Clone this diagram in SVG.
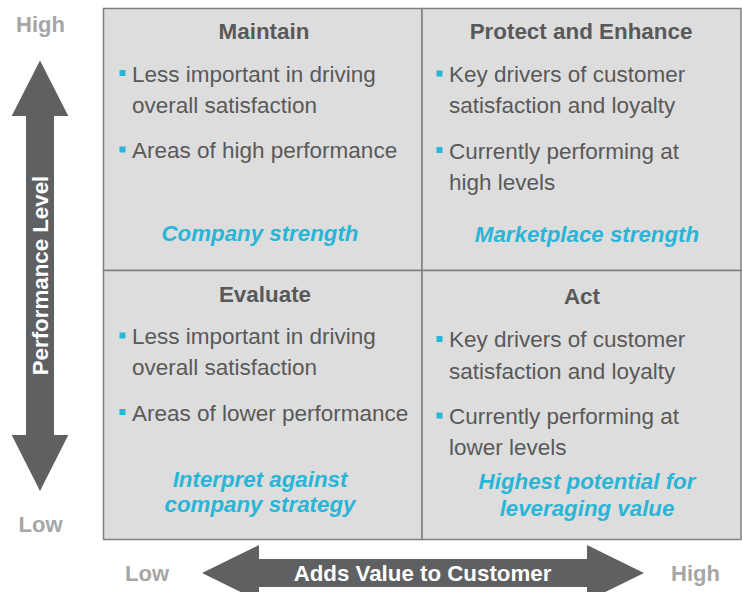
<svg xmlns="http://www.w3.org/2000/svg" width="742" height="592" viewBox="0 0 742 592">
<style>
text{font-family:"Liberation Sans",Arial,sans-serif}
.ttl{font-size:22.4px;font-weight:bold;fill:#595959;text-anchor:middle}
.bul{font-size:22.5px;fill:#595959}
.it{font-size:22.3px;font-weight:bold;font-style:italic;fill:#29b5d7;text-anchor:middle}
.ax{font-size:22px;font-weight:bold;fill:#a6a6a6;text-anchor:middle}
.arr{fill:#5f6062}
.arrt{font-size:22.3px;font-weight:bold;fill:#ffffff;text-anchor:middle}
.sq{fill:#29b5d7}
.cell{fill:#dddddd;stroke:#7f7f7f;stroke-width:1.5}
</style>
<rect width="742" height="592" fill="#ffffff"/>
<g id="grid">
<rect class="cell" x="103.5" y="8.5" width="318.5" height="262"/>
<rect class="cell" x="422" y="8.5" width="319" height="262"/>
<rect class="cell" x="103.5" y="270.5" width="318.5" height="269"/>
<rect class="cell" x="422" y="270.5" width="319" height="269"/>
</g>
<g id="maintain">
<text class="ttl" x="264" y="39">Maintain</text>
<rect class="sq" x="119.5" y="70" width="6" height="6"/>
<text class="bul" x="132" y="81.5">Less important in driving</text>
<text class="bul" x="132" y="112.5">overall satisfaction</text>
<rect class="sq" x="119.5" y="146.5" width="6" height="6"/>
<text class="bul" x="132" y="158">Areas of high performance</text>
<text class="it" x="260" y="241">Company strength</text>
</g>
<g id="protect">
<text class="ttl" x="581" y="39.3">Protect and Enhance</text>
<rect class="sq" x="436.5" y="70.5" width="6" height="6"/>
<text class="bul" x="449" y="82">Key drivers of customer</text>
<text class="bul" x="449" y="113">satisfaction and loyalty</text>
<rect class="sq" x="436.5" y="147" width="6" height="6"/>
<text class="bul" x="449" y="158.5">Currently performing at</text>
<text class="bul" x="449" y="190">high levels</text>
<text class="it" x="587" y="241.5">Marketplace strength</text>
</g>
<g id="evaluate">
<text class="ttl" x="265" y="301.5">Evaluate</text>
<rect class="sq" x="119.5" y="332.5" width="6" height="6"/>
<text class="bul" x="132" y="344">Less important in driving</text>
<text class="bul" x="132" y="375.3">overall satisfaction</text>
<rect class="sq" x="119.5" y="409" width="6" height="6"/>
<text class="bul" x="132" y="420.7">Areas of lower performance</text>
<text class="it" x="260" y="486.7">Interpret against</text>
<text class="it" x="260" y="512">company strategy</text>
</g>
<g id="act">
<text class="ttl" x="582" y="304.3">Act</text>
<rect class="sq" x="436.5" y="336" width="6" height="6"/>
<text class="bul" x="449" y="347.3">Key drivers of customer</text>
<text class="bul" x="449" y="379">satisfaction and loyalty</text>
<rect class="sq" x="436.5" y="412.5" width="6" height="6"/>
<text class="bul" x="449" y="424.3">Currently performing at</text>
<text class="bul" x="449" y="455">lower levels</text>
<text class="it" x="587" y="489">Highest potential for</text>
<text class="it" x="587" y="515.5">leveraging value</text>
</g>
<g id="axes">
<polygon class="arr" points="40,60.5 68.3,116 54,116 54,435 68.3,435 40,491 11.7,435 26,435 26,116 11.7,116"/>
<text class="arrt" transform="translate(47.5,275.5) rotate(-90)">Performance Level</text>
<polygon class="arr" points="202,573 259,545 259,559 587,559 587,545 644,573 587,601 587,587 259,587 259,601"/>
<text class="arrt" x="422.5" y="580.5">Adds Value to Customer</text>
<text class="ax" x="40.5" y="32">High</text>
<text class="ax" x="40.5" y="531.5">Low</text>
<text class="ax" x="147" y="581">Low</text>
<text class="ax" x="695.5" y="581">High</text>
</g>
</svg>
